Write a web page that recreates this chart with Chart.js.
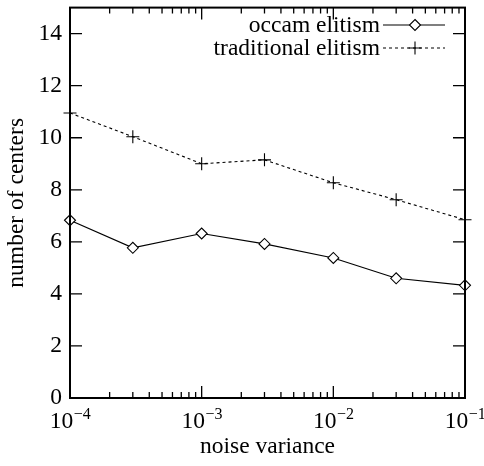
<!DOCTYPE html>
<html><head><meta charset="utf-8">
<script src="https://cdn.jsdelivr.net/npm/chart.js@4"></script>
<style>html,body{margin:0;padding:0;background:#fff}canvas{display:block}</style>
</head><body>
<canvas id="c" width="484" height="466"></canvas>
<script>
const noiseVariance = [1e-4, 3e-4, 1e-3, 3e-3, 1e-2, 3e-2, 1e-1];
const occamElitism = [6.83, 5.77, 6.32, 5.92, 5.38, 4.60, 4.33];
const traditionalElitism = [10.95, 10.04, 9.00, 9.15, 8.27, 7.62, 6.85];
const yTicks = [0, 2, 4, 6, 8, 10, 12, 14];
const xTickExponents = [-4, -3, -2, -1];
const seriesLabels = ['occam elitism', 'traditional elitism'];

const FAMILY = "'Liberation Serif', 'Times New Roman', serif";
const FONT = {family: FAMILY, size: 23.5};

const framePlugin = {
  id: 'frame',
  afterDraw(chart) {
    const {ctx, chartArea: a, scales: {x, y}} = chart;
    ctx.save();
    ctx.strokeStyle = '#000';
    ctx.fillStyle = '#000';
    ctx.lineWidth = 1.3;
    ctx.beginPath();
    yTicks.forEach(v => {
      const py = y.getPixelForValue(v);
      ctx.moveTo(a.left, py); ctx.lineTo(a.left + 12, py);
      ctx.moveTo(a.right, py); ctx.lineTo(a.right - 12, py);
    });
    for (let e = -4; e <= -1; e++) {
      for (let m = 1; m <= 9; m++) {
        const v = m * Math.pow(10, e);
        if (v > x.max * 1.0001) break;
        const px = x.getPixelForValue(v);
        const len = m === 1 ? 12 : 6;
        ctx.moveTo(px, a.bottom); ctx.lineTo(px, a.bottom - len);
        ctx.moveTo(px, a.top); ctx.lineTo(px, a.top + len);
      }
    }
    ctx.stroke();
    ctx.lineWidth = 2;
    ctx.strokeRect(a.left, a.top, a.right - a.left, a.bottom - a.top);

    // x tick labels with superscripts
    ctx.textBaseline = 'alphabetic';
    ctx.textAlign = 'left';
    xTickExponents.forEach(e => {
      const px = x.getPixelForValue(Math.pow(10, e));
      ctx.font = `23.5px ${FAMILY}`;
      const w1 = ctx.measureText('10').width;
      const sup = '\u2212' + Math.abs(e);
      ctx.font = `16px ${FAMILY}`;
      const w2 = ctx.measureText(sup).width;
      const start = px - (w1 + w2) / 2;
      ctx.font = `23.5px ${FAMILY}`;
      ctx.fillText('10', start, 428);
      ctx.font = `16px ${FAMILY}`;
      ctx.fillText(sup, start + w1 + 0.5, 419);
    });

    // legend
    const rows = [25, 48];
    chart.data.datasets.forEach((ds, i) => {
      const ry = rows[i];
      ctx.font = `23.5px ${FAMILY}`;
      ctx.textAlign = 'right';
      ctx.textBaseline = 'middle';
      ctx.fillText(ds.label, 380, ry + 1);
      ctx.lineWidth = ds.borderWidth;
      ctx.setLineDash(ds.borderDash || []);
      ctx.beginPath();
      ctx.moveTo(383, ry); ctx.lineTo(445, ry);
      ctx.stroke();
      ctx.setLineDash([]);
      const mx = 415;
      ctx.lineWidth = ds.pointBorderWidth;
      ctx.beginPath();
      if (ds.pointStyle === 'rectRot') {
        const r = ds.pointRadius;
        ctx.moveTo(mx, ry - r); ctx.lineTo(mx + r, ry); ctx.lineTo(mx, ry + r); ctx.lineTo(mx - r, ry); ctx.closePath();
        ctx.fillStyle = '#fff'; ctx.fill(); ctx.stroke(); ctx.fillStyle = '#000';
      } else {
        const r = ds.pointRadius;
        ctx.moveTo(mx - r, ry); ctx.lineTo(mx + r, ry);
        ctx.moveTo(mx, ry - r); ctx.lineTo(mx, ry + r);
        ctx.stroke();
      }
    });
    ctx.restore();
  }
};

new Chart(document.getElementById('c'), {
  type: 'line',
  data: {
    datasets: [
      {
        label: seriesLabels[0],
        data: noiseVariance.map((v, i) => ({x: v, y: occamElitism[i]})),
        borderColor: '#000', borderWidth: 1.2, tension: 0,
        pointStyle: 'rectRot', pointRadius: 5.5, pointBackgroundColor: '#fff',
        pointBorderColor: '#000', pointBorderWidth: 1.1, clip: false
      },
      {
        label: seriesLabels[1],
        data: noiseVariance.map((v, i) => ({x: v, y: traditionalElitism[i]})),
        borderColor: '#000', borderWidth: 1.1, borderDash: [3, 3], tension: 0,
        pointStyle: 'cross', pointRadius: 6.5, pointBackgroundColor: '#000',
        pointBorderColor: '#000', pointBorderWidth: 1.1, clip: false
      }
    ]
  },
  options: {
    responsive: false,
    animation: false,
    layout: {padding: {top: 4.5, right: 19, left: 0, bottom: 0}},
    plugins: {legend: {display: false}, tooltip: {enabled: false}},
    scales: {
      x: {
        type: 'logarithmic', min: 1e-4, max: 1e-1, position: 'bottom',
        ticks: {display: false},
        grid: {display: false, drawTicks: false},
        border: {display: false},
        title: {display: true, text: 'noise variance', font: FONT, color: '#000', padding: {top: 0, bottom: 5}},
        afterFit(s) { s.height = 68; s.paddingLeft = 0; s.paddingRight = 0; }
      },
      y: {
        type: 'linear', min: 0, max: 15,
        afterBuildTicks(s) { s.ticks = yTicks.map(v => ({value: v})); },
        ticks: {font: FONT, color: '#000', padding: 8, callback: v => String(v)},
        grid: {display: false, drawTicks: false},
        border: {display: false},
        title: {display: true, text: 'number of centers', font: FONT, color: '#000', padding: {top: 3, bottom: 0}},
        afterFit(s) { s.width = 70; s.paddingTop = 0; s.paddingBottom = 0; }
      }
    }
  },
  plugins: [framePlugin]
});
</script>
</body></html>
